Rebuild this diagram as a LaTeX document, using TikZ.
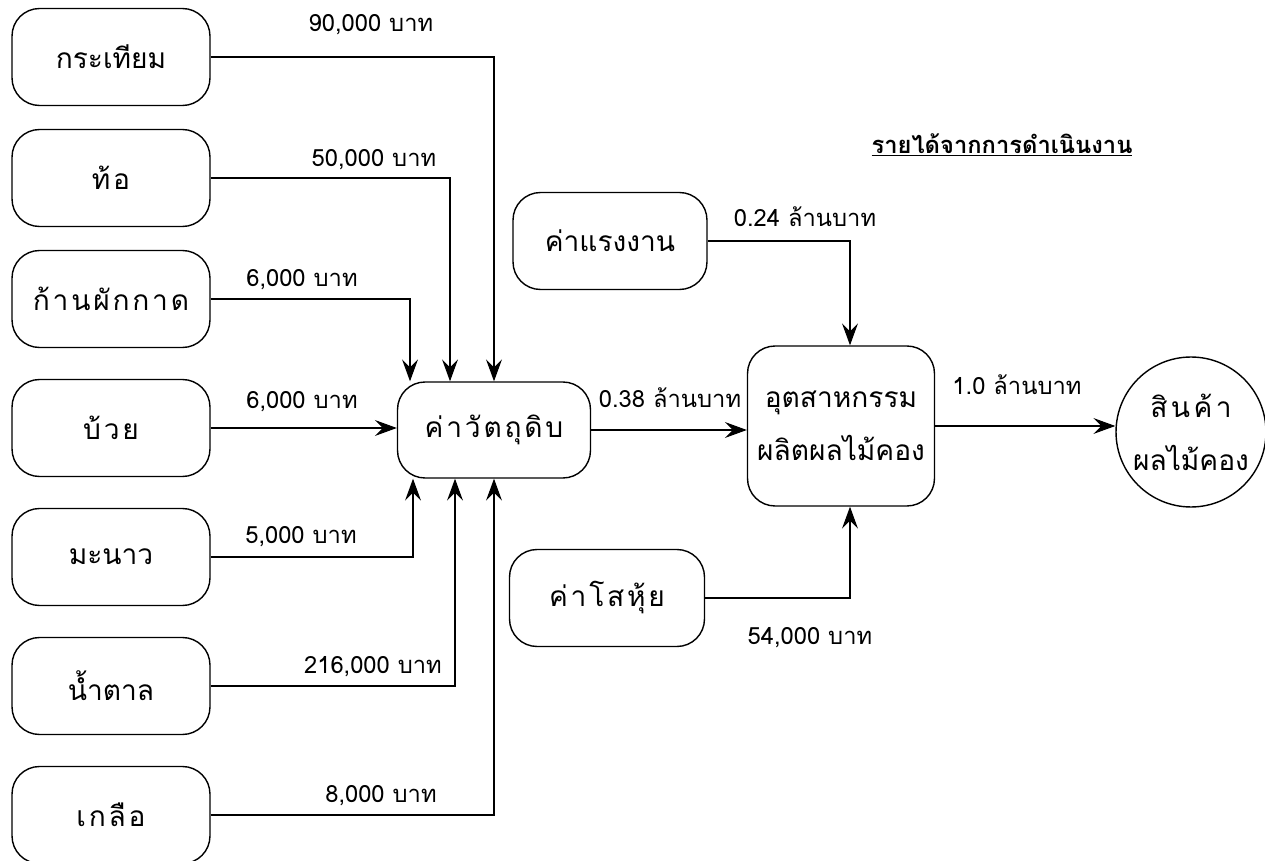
\documentclass[tikz,border=0pt]{standalone}
\usepackage{fontspec}
\setmainfont[Script=Thai]{Loma}
\usetikzlibrary{arrows.meta,positioning}

\begin{document}
\begin{tikzpicture}[x=0.02cm,y=-0.02cm,line width=0.6pt,
 >={Stealth[length=4.4mm,width=3.2mm,inset=1.6mm]},
 bx/.style={draw,rounded corners=0.55cm,line width=0.8pt,minimum width=3.96cm,minimum height=1.94cm,inner sep=2pt,font=\fontsize{16}{20}\selectfont},
 sp/.style={font=\fontsize{16}{20}\selectfont\addfontfeature{LetterSpace=10}},
 lb/.style={inner sep=1pt,font=\fontsize{13.5}{16}\selectfont}]
\useasboundingbox (0,0) rectangle (1265,861);
% raw materials
\node[bx] (garlic) at (111,57) {กระเทียม};
\node[bx,sp] (peach) at (111,178) {ท้อ};
\node[bx,sp] (stem) at (111,299) {ก้านผักกาด};
\node[bx,sp] (plum) at (111,428) {บ้วย};
\node[bx] (lime) at (111,557) {มะนาว};
\node[bx] (sugar) at (111,686) {น้ำตาล};
\node[bx,sp] (salt) at (111,815) {เกลือ};
\node[bx,sp,minimum width=3.86cm,minimum height=1.92cm] (raw) at (494,430) {ค่าวัตถุดิบ};
% costs and process
\node[bx,minimum width=3.88cm] (labor) at (610,241) {ค่าแรงงาน};
\node[bx,sp,minimum width=3.9cm] (ovh) at (607,598) {ค่าโสหุ้ย};
\node[bx,minimum width=3.74cm,minimum height=3.2cm,align=center,font=\fontsize{16}{30}\selectfont] (ind) at (841,426) {อุตสาหกรรม\\ผลิตผลไม้คอง};
\node[draw,circle,line width=0.8pt,minimum size=3cm,inner sep=0pt,align=center,font=\fontsize{16}{30}\selectfont] (prod) at (1191,432) {{\addfontfeature{LetterSpace=12}สินค้า}\\ผลไม้คอง};
% title
\node[font=\fontsize{13.5}{16}\selectfont\bfseries] (title) at (1002,145) {\underline{รายได้จากการดำเนินงาน}};
% amounts
\node[lb] (a1) at (371,25) {90,000 บาท};
\node[lb] (a2) at (374,160) {50,000 บาท};
\node[lb] (a3) at (302,280) {6,000 บาท};
\node[lb] (a4) at (302,402) {6,000 บาท};
\node[lb] (a5) at (301,537) {5,000 บาท};
\node[lb] (a6) at (373,667) {216,000 บาท};
\node[lb] (a7) at (381,796) {8,000 บาท};
\node[lb] (a8) at (670,398) {0.38 ล้านบาท};
\node[lb] (a9) at (805,217) {0.24 ล้านบาท};
\node[lb] (a10) at (1017,385) {1.0 ล้านบาท};
\node[lb] (a11) at (810,638) {54,000 บาท};
% flows
\draw[->] (garlic) -| (raw.north);
\draw[->] (peach) -| ([xshift=-0.88cm]raw.north);
\draw[->] (stem) -| ([xshift=-1.68cm]raw.north);
\draw[->] (plum.east) -- (plum.east -| raw.west);
\draw[->] (lime) -| ([xshift=-1.62cm]raw.south);
\draw[->] (sugar) -| ([xshift=-0.78cm]raw.south);
\draw[->] (salt) -| (raw.south);
\draw[->] (raw.east) -- (raw.east -| ind.west);
\draw[->] (labor) -| ([xshift=0.18cm]ind.north);
\draw[->] (ovh) -| ([xshift=0.18cm]ind.south);
\draw[->] (ind.east) -- (ind.east -| prod.west);
\end{tikzpicture}
\end{document}
